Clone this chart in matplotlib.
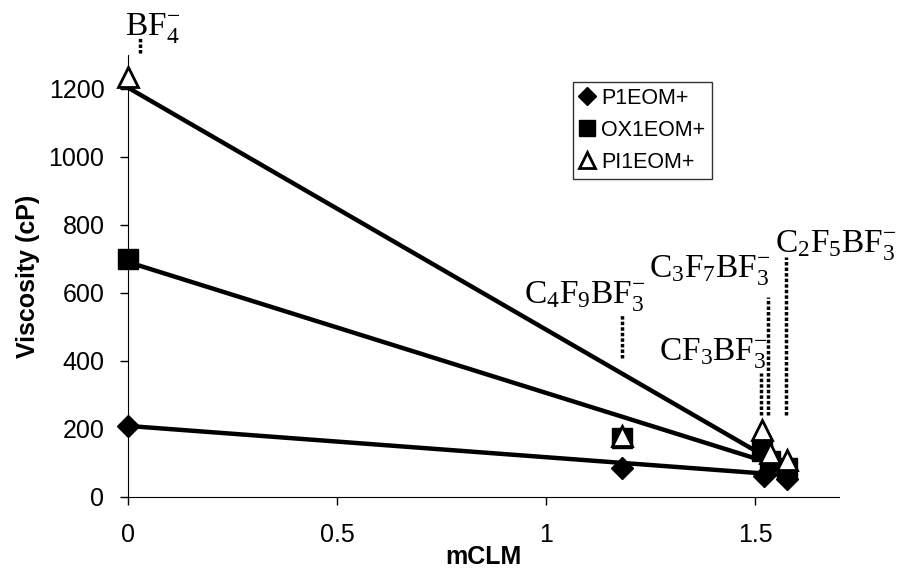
import numpy as np
import matplotlib

matplotlib.use("Agg")
import matplotlib.pyplot as plt

plt.rcParams["font.family"] = ["Liberation Sans", "DejaVu Sans"]
plt.rcParams["mathtext.fontset"] = "custom"
plt.rcParams["mathtext.rm"] = "Liberation Serif"
plt.rcParams["mathtext.it"] = "Liberation Serif:italic"

# mCLM values and viscosities (cP)
p1_x = [0.0, 1.18, 1.52, 1.575]
p1_y = [210, 85, 62, 52]
ox_x = [0.0, 1.18, 1.515, 1.535, 1.575]
ox_y = [700, 175, 135, 105, 85]
pi_x = [0.0, 1.18, 1.515, 1.535, 1.575]
pi_y = [1235, 180, 197, 130, 108]

# trendline (intercept, slope) as drawn
p1_fit = (209, -92)
ox_fit = (691, -385)
pi_fit = (1204, -712)
fit_end = 1.56

labels = ["P1EOM+", "OX1EOM+", "PI1EOM+"]

# anion labels: text, text position, dotted leader (x, y0, y1)
anions = [
    (r"$\mathrm{BF_4^{-}}$", (0.058, 1380), (0.028, 1306, 1350)),
    (r"$\mathrm{C_4F_9BF_3^{-}}$", (1.093, 590), (1.181, 410, 535)),
    (r"$\mathrm{C_3F_7BF_3^{-}}$", (1.392, 668), (1.531, 241, 588)),
    (r"$\mathrm{CF_3BF_3^{-}}$", (1.40, 424), (1.514, 241, 365)),
    (r"$\mathrm{C_2F_5BF_3^{-}}$", (1.693, 740), (1.574, 241, 706)),
]

fig = plt.figure(figsize=(8.98, 5.69), dpi=100)
ax = fig.add_axes([128 / 898, 72 / 569, 711 / 898, 442 / 569])

xs = np.array([0, fit_end])
for (b, m) in (p1_fit, ox_fit, pi_fit):
    ax.plot(xs, b + m * xs, color="black", lw=3.2, zorder=2, solid_capstyle="butt")

ax.plot(p1_x, p1_y, ls="none", marker="D", ms=11, color="black", zorder=3,
        clip_on=False, label=labels[0])
ax.plot(ox_x, ox_y, ls="none", marker="s", ms=15, color="black", zorder=3,
        clip_on=False, label=labels[1])
ax.plot(pi_x, pi_y, ls="none", marker="^", ms=15, mfc="white", mec="black", mew=2,
        zorder=4, clip_on=False, label=labels[2])

for text, (tx, ty), (lx, y0, y1) in anions:
    ax.text(tx, ty, text, fontsize=24, ha="center", va="center", clip_on=False)
    ax.plot([lx, lx], [y0, y1], color="black", lw=2.5, ls=(0, (1, 0.6)),
            clip_on=False, zorder=1)

ax.set_xlim(0, 1.7)
ax.set_ylim(0, 1300)
ax.set_xticks([0, 0.5, 1, 1.5])
ax.set_xticklabels(["0", "0.5", "1", "1.5"])
ax.set_yticks(range(0, 1201, 200))
ax.tick_params(labelsize=18, direction="out", length=6, width=1)
ax.tick_params(axis="x", pad=13)
ax.tick_params(axis="y", pad=11)
ax.spines["top"].set_visible(False)
ax.spines["right"].set_visible(False)
ax.set_xlabel("mCLM", fontsize=18, fontweight="bold", labelpad=-2)
ax.set_ylabel("Viscosity (cP)", fontsize=18, fontweight="bold", labelpad=6)

leg = ax.legend(loc="upper left", bbox_to_anchor=(0.626, 0.94), fontsize=15.5,
                frameon=True, fancybox=False, edgecolor="black", handlelength=0.7,
                handletextpad=0.3, borderpad=0.3, borderaxespad=0,
                labelspacing=0.5, markerscale=0.8)
leg.get_frame().set_linewidth(1)

fig.savefig("out.png", dpi=100, facecolor="white")
